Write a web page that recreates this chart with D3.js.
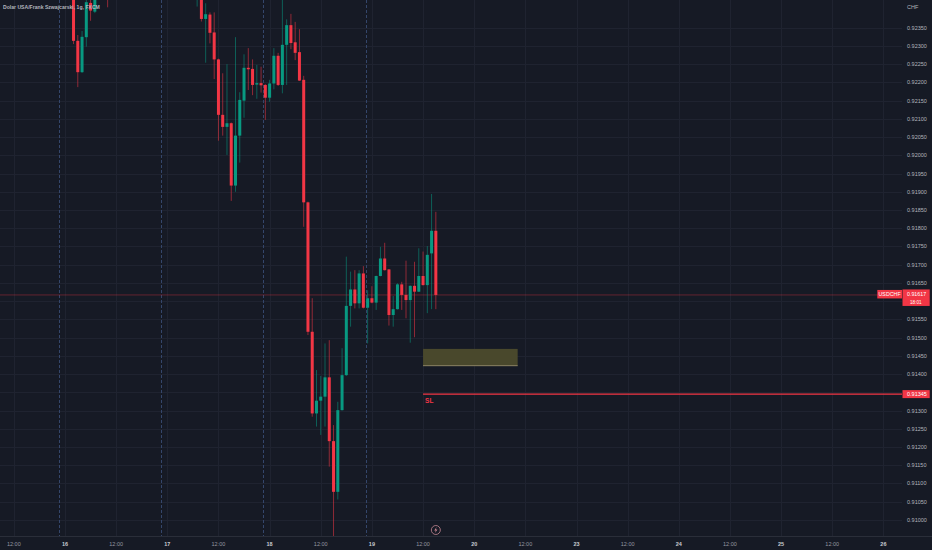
<!DOCTYPE html>
<html>
<head>
<meta charset="utf-8">
<script src="https://cdn.jsdelivr.net/npm/d3@7"></script>
<style>
  html, body { margin: 0; padding: 0; background: #161a25; overflow: hidden; }
  svg { display: block; font-family: "Liberation Sans", "Noto Sans", sans-serif; }
</style>
</head>
<body>
<svg id="chart" width="932" height="550"></svg>
<script>
// hourly candles, hour index counted from the 16th 00:00 (weekend removed)
const hours  = [2, 3, 4, 5, 6, 7, 10, 31, 32, 33, 34, 35, 36, 37, 38, 39, 40, 41, 42, 43, 44, 45, 46, 47, 48, 49, 50,
                51, 52, 53, 54, 55, 56, 57, 58, 59, 60, 61, 62, 63, 64, 65, 66, 67, 68, 69, 70, 71, 72, 73, 74, 75,
                76, 77, 78, 79, 80, 81, 82, 83, 84, 85, 86, 87];
const opens  = [0.92453, 0.92314, 0.92228, 0.92324, 0.92418, 0.92394, 0.92470, 0.92430, 0.92440, 0.92374, 0.92386,
                0.92337, 0.92263, 0.92111, 0.92078, 0.92088, 0.91917, 0.92054, 0.92150, 0.92240, 0.92237, 0.92194,
                0.92198, 0.92193, 0.92158, 0.92197, 0.92273, 0.92193, 0.92303, 0.92357, 0.92310, 0.92283, 0.92207,
                0.91871, 0.91516, 0.91292, 0.91327, 0.91338, 0.91391, 0.91216, 0.91077, 0.91301, 0.91397, 0.91587,
                0.91632, 0.91594, 0.91676, 0.91582, 0.91608, 0.91596, 0.91669, 0.91717, 0.91687, 0.91562, 0.91578,
                0.91646, 0.91617, 0.91603, 0.91642, 0.91626, 0.91669, 0.91644, 0.91731, 0.91793];
const highs  = [0.92467, 0.92330, 0.92341, 0.92440, 0.92435, 0.92455, 0.92490, 0.92480, 0.92460, 0.92417, 0.92392,
                0.92392, 0.92265, 0.92225, 0.92250, 0.92090, 0.92324, 0.92173, 0.92277, 0.92294, 0.92263, 0.92248,
                0.92243, 0.92195, 0.92207, 0.92294, 0.92281, 0.92430, 0.92373, 0.92388, 0.92366, 0.92346, 0.92218,
                0.91873, 0.91608, 0.91411, 0.91395, 0.91484, 0.91493, 0.91260, 0.91324, 0.91471, 0.91722, 0.91681,
                0.91685, 0.91685, 0.91696, 0.91630, 0.91641, 0.91670, 0.91749, 0.91760, 0.91688, 0.91614, 0.91649,
                0.91653, 0.91711, 0.91643, 0.91708, 0.91745, 0.91736, 0.91751, 0.91894, 0.91845];
const lows   = [0.92305, 0.92187, 0.92226, 0.92298, 0.92369, 0.92390, 0.92406, 0.92408, 0.92367, 0.92254, 0.92307,
                0.92209, 0.92040, 0.92054, 0.92001, 0.91875, 0.91900, 0.91980, 0.92103, 0.92179, 0.92165, 0.92155,
                0.92172, 0.92097, 0.92147, 0.92181, 0.92190, 0.92170, 0.92193, 0.92291, 0.92261, 0.92204, 0.91804,
                0.91507, 0.91283, 0.91256, 0.91233, 0.91256, 0.91146, 0.90950, 0.91056, 0.91300, 0.91395, 0.91530,
                0.91580, 0.91580, 0.91580, 0.91484, 0.91594, 0.91576, 0.91668, 0.91684, 0.91533, 0.91530, 0.91577,
                0.91576, 0.91553, 0.91486, 0.91501, 0.91625, 0.91643, 0.91567, 0.91578, 0.91578];
const closes = [0.92314, 0.92228, 0.92325, 0.92420, 0.92397, 0.92440, 0.92440, 0.92460, 0.92374, 0.92387, 0.92336,
                0.92263, 0.92111, 0.92078, 0.92088, 0.91917, 0.92054, 0.92152, 0.92240, 0.92236, 0.92193, 0.92198,
                0.92192, 0.92158, 0.92197, 0.92273, 0.92193, 0.92303, 0.92357, 0.92308, 0.92281, 0.92205, 0.91871,
                0.91516, 0.91292, 0.91327, 0.91338, 0.91391, 0.91216, 0.91077, 0.91301, 0.91397, 0.91587, 0.91632,
                0.91594, 0.91676, 0.91582, 0.91608, 0.91596, 0.91669, 0.91717, 0.91685, 0.91562, 0.91578, 0.91646,
                0.91617, 0.91603, 0.91642, 0.91626, 0.91669, 0.91644, 0.91727, 0.91793, 0.91617];

const priceTicks = d3.range(0, 28).map(i => +(0.92350 - i * 0.0005).toFixed(5));
const timeTicks  = d3.range(-12, 193, 12);
const timeLabels = ["12:00", "16", "12:00", "17", "12:00", "18", "12:00", "19", "12:00", "20",
                    "12:00", "23", "12:00", "24", "12:00", "25", "12:00", "26"];
const sessionBreaks = [-1.5, 22.5, 46.5, 70.5];

const zoneHours  = [84, 106.2];
const zonePrices = [0.91469, 0.91423];
const slHour  = 84;
const slPrice = 0.91345;
const lastPrice = closes[closes.length - 1];

const title = "Dolar USA/Frank Szwajcarski, 1g, FXCM";
const symbol = "USDCHF";

const size = { width: 932, height: 550, plotRight: 902, plotBottom: 536 };
const colors = { up: "#089981", down: "#f23645", grid: "#1f2330", text: "#b2b5be", session: "#34466b" };

const svg = d3.select("#chart");

const x = d3.scaleLinear().domain([0, 192]).range([65, 883.4]);
const y = d3.scaleLinear().domain([0.91000, 0.92350]).range([519.9, 27.7]);

svg.append("rect").attr("width", size.width).attr("height", size.height).attr("fill", "#161a25");

svg.append("defs").append("clipPath").attr("id", "plot")
    .append("rect").attr("x", 0).attr("y", 0).attr("width", size.plotRight).attr("height", size.plotBottom);

// grid
const grid = svg.append("g");
grid.selectAll(".hg").data(priceTicks).join("line")
    .attr("x1", 0).attr("x2", size.plotRight)
    .attr("y1", d => Math.round(y(d)) + 0.5).attr("y2", d => Math.round(y(d)) + 0.5)
    .attr("stroke", colors.grid);
grid.selectAll(".vg").data(timeTicks).join("line")
    .attr("x1", d => Math.round(x(d)) + 0.5).attr("x2", d => Math.round(x(d)) + 0.5)
    .attr("y1", 0).attr("y2", size.plotBottom)
    .attr("stroke", colors.grid);

// session breaks
svg.append("g").selectAll("line").data(sessionBreaks).join("line")
    .attr("x1", d => Math.round(x(d)) + 0.5).attr("x2", d => Math.round(x(d)) + 0.5)
    .attr("y1", 0).attr("y2", size.plotBottom)
    .attr("stroke", colors.session).attr("stroke-width", 1).attr("stroke-dasharray", "3,2");

const plot = svg.append("g").attr("clip-path", "url(#plot)");

// current price line
plot.append("line")
    .attr("x1", 0).attr("x2", size.plotRight)
    .attr("y1", y(lastPrice)).attr("y2", y(lastPrice))
    .attr("stroke", colors.down).attr("stroke-opacity", 0.35).attr("stroke-width", 1);

// zone rectangle
plot.append("rect")
    .attr("x", x(zoneHours[0])).attr("y", y(zonePrices[0]))
    .attr("width", x(zoneHours[1]) - x(zoneHours[0]))
    .attr("height", y(zonePrices[1]) - y(zonePrices[0]))
    .attr("fill", "#49482c");
plot.append("line")
    .attr("x1", x(zoneHours[0])).attr("x2", x(zoneHours[1]))
    .attr("y1", y(zonePrices[1])).attr("y2", y(zonePrices[1]))
    .attr("stroke", "#8d8464").attr("stroke-width", 1);

// stop loss line
plot.append("line")
    .attr("x1", x(slHour)).attr("x2", size.plotRight)
    .attr("y1", y(slPrice)).attr("y2", y(slPrice))
    .attr("stroke", colors.down).attr("stroke-width", 1.3);
plot.append("text")
    .attr("x", x(slHour) + 2).attr("y", y(slPrice) + 8.5)
    .attr("fill", colors.down).attr("font-size", 6.5).attr("font-weight", "bold")
    .text("SL");

// candles
const candles = hours.map((h, i) => ({ h, o: opens[i], hi: highs[i], lo: lows[i], c: closes[i] }));
const barW = 3;
const cg = plot.selectAll(".candle").data(candles).join("g");
cg.append("line")
    .attr("x1", d => x(d.h)).attr("x2", d => x(d.h))
    .attr("y1", d => y(d.hi)).attr("y2", d => y(d.lo))
    .attr("stroke", d => d.c >= d.o ? colors.up : colors.down)
    .attr("stroke-opacity", 0.55).attr("stroke-width", 1);
cg.append("rect")
    .attr("x", d => x(d.h) - barW / 2)
    .attr("y", d => y(Math.max(d.o, d.c)))
    .attr("width", barW)
    .attr("height", d => Math.max(1, Math.abs(y(d.o) - y(d.c))))
    .attr("fill", d => d.c >= d.o ? colors.up : colors.down);

// title legend
svg.append("text")
    .attr("x", 3).attr("y", 8.5)
    .attr("fill", colors.text).attr("font-size", 5.1).attr("font-weight", "bold")
    .text(title);

// bottom border of plot
svg.append("line")
    .attr("x1", 0).attr("x2", size.width)
    .attr("y1", size.plotBottom + 0.5).attr("y2", size.plotBottom + 0.5)
    .attr("stroke", "#2a2e39");

// price axis labels (skip those covered by price boxes)
const covered = [lastPrice, slPrice];
svg.append("g").selectAll("text")
    .data(priceTicks.filter(p => covered.every(c => Math.abs(y(p) - y(c)) > 8)))
    .join("text")
    .attr("x", 907).attr("y", d => y(d) + 2)
    .attr("fill", colors.text).attr("font-size", 5.5)
    .text(d => d3.format(".5f")(d));

svg.append("text")
    .attr("x", 907).attr("y", 8.5)
    .attr("fill", colors.text).attr("font-size", 5.5)
    .text("CHF");

// time axis labels
svg.append("g").selectAll("text").data(timeTicks).join("text")
    .attr("x", d => x(d)).attr("y", 545.5)
    .attr("text-anchor", "middle")
    .attr("fill", (d, i) => timeLabels[i] === "12:00" ? "#9598a1" : "#c8cad0")
    .attr("font-size", 5.5)
    .attr("font-weight", (d, i) => timeLabels[i] === "12:00" ? "normal" : "bold")
    .text((d, i) => timeLabels[i]);

// event marker on the time line
const ev = svg.append("g").attr("transform", `translate(${x(hours[hours.length - 1])}, 530)`);
ev.append("circle").attr("r", 4.5).attr("fill", "none").attr("stroke", "#b07a86").attr("stroke-width", 0.9);
ev.append("path").attr("d", "M0.8,-3 L-1.6,0.4 L0,0.4 L-0.8,3 L1.6,-0.6 L0,-0.6 Z").attr("fill", "#d08a95");

// right side price boxes
const py = y(lastPrice);
svg.append("rect").attr("x", 877.3).attr("y", py - 5).attr("width", 24.7).attr("height", 8.5).attr("fill", colors.down);
svg.append("text").attr("x", 889.6).attr("y", py + 1.3).attr("text-anchor", "middle")
    .attr("fill", "#fff").attr("font-size", 5.3).text(symbol);
svg.append("rect").attr("x", 902.5).attr("y", py - 5.5).attr("width", 27.2).attr("height", 16.5).attr("fill", colors.down);
svg.append("text").attr("x", 907).attr("y", py + 0.6)
    .attr("fill", "#fff").attr("font-size", 5.3).text(d3.format(".5f")(lastPrice));
svg.append("text").attr("x", 910).attr("y", py + 9)
    .attr("fill", "#fff").attr("font-size", 4.6).text("18:01");

const sy = y(slPrice);
svg.append("rect").attr("x", 902.5).attr("y", sy - 4).attr("width", 27.2).attr("height", 8).attr("fill", colors.down);
svg.append("text").attr("x", 907).attr("y", sy + 2)
    .attr("fill", "#fff").attr("font-size", 5.5).text(d3.format(".5f")(slPrice));
</script>
</body>
</html>
